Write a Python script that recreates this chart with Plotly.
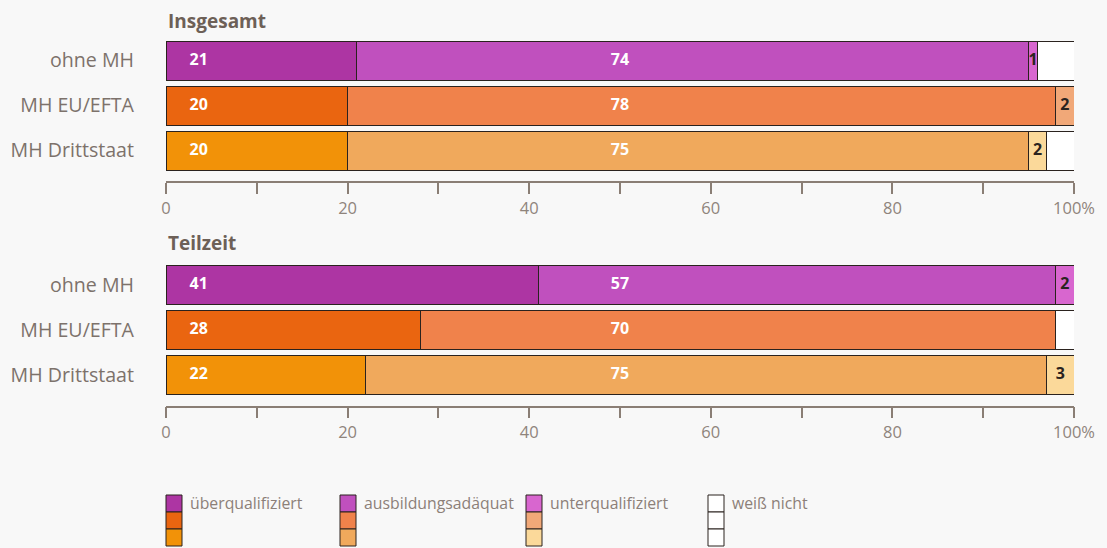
import plotly.graph_objects as go

W, H = 1107, 548

# ---- data -------------------------------------------------------------
groups = ["ohne MH", "MH EU/EFTA", "MH Drittstaat"]
panel_titles = ["Insgesamt", "Teilzeit"]
categories = ["überqualifiziert", "ausbildungsadäquat", "unterqualifiziert", "weiß nicht"]

# Insgesamt (rows: ohne MH, MH EU/EFTA, MH Drittstaat)
ins_ueber = [21, 20, 20]
ins_adaeq = [74, 78, 75]
ins_unter = [1, 2, 2]
ins_weiss = [4, 0, 3]

# Teilzeit
tz_ueber = [41, 28, 22]
tz_adaeq = [57, 70, 75]
tz_unter = [2, 0, 3]
tz_weiss = [0, 2, 0]

tick_vals = [0, 10, 20, 30, 40, 50, 60, 70, 80, 90, 100]
tick_text = ["0", "", "20", "", "40", "", "60", "", "80", "", "100%"]

# ---- styling ----------------------------------------------------------
BG = "#f8f8f8"
AXIS = "#8a7e75"
TXT = "#7d726b"
TITLE = "#6d6057"
EDGE = "#2a221e"
FONT = "Open Sans"

# colours: row -> category
row_colors = [
    ["#ad35a3", "#c050be", "#d866cf", "#ffffff"],  # ohne MH
    ["#ea6510", "#f0824b", "#f1a878", "#ffffff"],  # MH EU/EFTA
    ["#f29208", "#f0a95c", "#fbd99a", "#ffffff"],  # MH Drittstaat
]

panels = [
    [ins_ueber, ins_adaeq, ins_unter, ins_weiss],
    [tz_ueber, tz_adaeq, tz_unter, tz_weiss],
]

# pixel geometry of the two panels (top of plot, axis line)
panel_px = [(38, 181), (262.5, 405.5)]
row_step_px = 45.0
BAR_W = 39 / 45

x0_px, x1_px = 166, 1074


def py(px):
    return 1 - px / H


def px_x(px):
    return px / W


fig = go.Figure()

for p, (series, (top, bot)) in enumerate(zip(panels, panel_px)):
    xa = "x" if p == 0 else "x2"
    ya = "y" if p == 0 else "y2"
    rows = [0, 1, 2]
    for c, vals in enumerate(series):
        fig.add_trace(go.Bar(
            x=vals, y=rows, orientation="h", width=BAR_W,
            marker=dict(color=[row_colors[r][c] for r in rows],
                        line=dict(color=EDGE, width=1)),
            xaxis=xa, yaxis=ya, hoverinfo="skip", showlegend=False,
        ))

    # value labels
    ueber, adaeq, unter, _ = series
    lx, ly, lt, lc = [], [], [], []
    for r in rows:
        lx.append(3.6); ly.append(r); lt.append(str(ueber[r])); lc.append("#ffffff")
        lx.append(50); ly.append(r); lt.append(str(adaeq[r])); lc.append("#ffffff")
        if unter[r] > 0:
            lx.append(ueber[r] + adaeq[r] + unter[r] / 2)
            ly.append(r); lt.append(str(unter[r])); lc.append("#2b2420")
    fig.add_trace(go.Scatter(
        x=lx, y=ly, text=lt, mode="text",
        textfont=dict(family=FONT, size=16, color=lc, weight="bold"),
        xaxis=xa, yaxis=ya, hoverinfo="skip", showlegend=False, cliponaxis=False,
    ))

    span = (bot - top) / row_step_px
    yax = dict(
        domain=[py(bot), py(top)],
        range=[-0.5 + span, -0.5],
        tickvals=[0, 1, 2], ticktext=groups,
        ticks="", showline=False, showgrid=False, zeroline=False,
        tickfont=dict(family=FONT, size=19.6, color=TXT),
        ticklabelstandoff=31, automargin=False,
        anchor=xa, fixedrange=True,
    )
    xax = dict(
        domain=[px_x(x0_px), px_x(x1_px)],
        range=[0, 100],
        tickvals=tick_vals, ticktext=tick_text,
        ticks="outside", ticklen=11, tickwidth=1.5, tickcolor=AXIS,
        showline=True, linecolor=AXIS, linewidth=1.5,
        showgrid=False, zeroline=False,
        tickfont=dict(family=FONT, size=16.5, color="#8f847c"),
        anchor=ya, automargin=False, fixedrange=True,
    )
    if p == 0:
        fig.update_layout(xaxis=xax, yaxis=yax)
    else:
        fig.update_layout(xaxis2=xax, yaxis2=yax)

# panel titles
annotations = []
for title, ypx in zip(panel_titles, [21, 243]):
    annotations.append(dict(
        text=f"<b>{title}</b>", x=px_x(x0_px), y=py(ypx),
        xref="paper", yref="paper", xanchor="left", yanchor="middle",
        showarrow=False, font=dict(family=FONT, size=19, color=TITLE),
    ))

# legend: one column per category, one swatch per group
shapes = []
leg_x = [166, 340, 526, 708]
leg_y = [495, 512, 529]
sw_w, sw_h = 16, 17
for c, (lx_px, name) in enumerate(zip(leg_x, categories)):
    for r, ty in enumerate(leg_y):
        shapes.append(dict(
            type="rect", xref="paper", yref="paper",
            x0=px_x(lx_px), x1=px_x(lx_px + sw_w),
            y0=py(ty + sw_h), y1=py(ty),
            fillcolor=row_colors[r][c], line=dict(color=EDGE, width=1),
        ))
    annotations.append(dict(
        text=name, x=px_x(lx_px + sw_w + 6), y=py(503),
        xref="paper", yref="paper", xanchor="left", yanchor="middle",
        showarrow=False, font=dict(family=FONT, size=15.8, color="#8c8079"),
    ))

fig.update_layout(
    width=W, height=H,
    margin=dict(l=0, r=0, t=0, b=0),
    paper_bgcolor=BG, plot_bgcolor=BG,
    barmode="stack", showlegend=False,
    annotations=annotations, shapes=shapes,
)

fig.write_html("out.html")
